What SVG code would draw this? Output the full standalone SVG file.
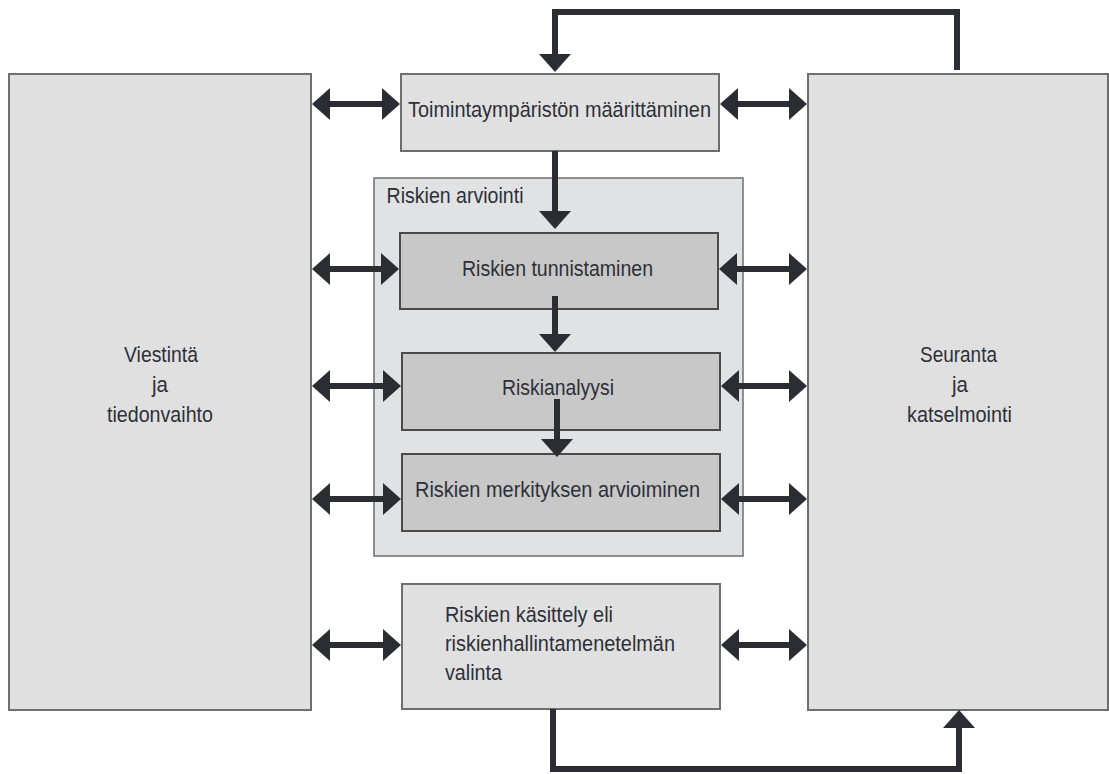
<svg xmlns="http://www.w3.org/2000/svg" width="1109" height="774" viewBox="0 0 1109 774">
<defs>
<style>
.big{fill:#e0e0e0;stroke:#6e6e6e;stroke-width:2}
.cont{fill:#e1e2e4;stroke:#6e6e6e;stroke-width:1.5}
.inner{fill:#c8c8c8;stroke:#4a4a4a;stroke-width:2}
.t{font-family:"Liberation Sans",Arial,sans-serif;font-size:22.5px;fill:#2e3038}
.c{text-anchor:middle}
.ln{fill:none;stroke:#2b2d33;stroke-width:6}
.arr{marker-end:url(#ah)}
.dbl{marker-start:url(#ah);marker-end:url(#ah)}
</style>
<marker id="ah" viewBox="0 0 18 32" refX="8" refY="16" markerWidth="18" markerHeight="32" markerUnits="userSpaceOnUse" orient="auto-start-reverse">
<path d="M0,0 L18,16 L0,32 z" fill="#2b2d33"/>
</marker>
</defs>
<rect width="1109" height="774" fill="#ffffff"/>

<g id="viestinta">
<rect class="big" x="9" y="74" width="302" height="636"/>
<text class="t c" x="161" y="362" textLength="74" lengthAdjust="spacingAndGlyphs">Viestintä</text>
<text class="t c" x="160" y="392" textLength="16" lengthAdjust="spacingAndGlyphs">ja</text>
<text class="t c" x="160" y="422" textLength="106" lengthAdjust="spacingAndGlyphs">tiedonvaihto</text>
</g>

<g id="seuranta">
<rect class="big" x="808" y="74" width="300" height="636"/>
<text class="t c" x="958.5" y="362" textLength="77" lengthAdjust="spacingAndGlyphs">Seuranta</text>
<text class="t c" x="960" y="392" textLength="16" lengthAdjust="spacingAndGlyphs">ja</text>
<text class="t c" x="959.5" y="422" textLength="105" lengthAdjust="spacingAndGlyphs">katselmointi</text>
</g>

<g id="toimintaymparisto">
<rect class="big" x="401" y="74" width="318" height="77"/>
<text class="t c" x="559.5" y="117" textLength="303" lengthAdjust="spacingAndGlyphs">Toimintaympäristön määrittäminen</text>
</g>

<g id="riskien-arviointi">
<rect class="cont" x="374" y="178" width="369" height="378"/>
<text class="t" x="386.5" y="203" textLength="137" lengthAdjust="spacingAndGlyphs">Riskien arviointi</text>
</g>

<g id="tunnistaminen">
<rect class="inner" x="400" y="233" width="318" height="76"/>
<text class="t c" x="557.5" y="276" textLength="191" lengthAdjust="spacingAndGlyphs">Riskien tunnistaminen</text>
</g>

<g id="riskianalyysi">
<rect class="inner" x="402" y="353" width="318" height="77"/>
<text class="t c" x="558" y="395" textLength="112" lengthAdjust="spacingAndGlyphs">Riskianalyysi</text>
</g>

<g id="merkitys">
<rect class="inner" x="402" y="454" width="318" height="77"/>
<text class="t c" x="557.5" y="497" textLength="285" lengthAdjust="spacingAndGlyphs">Riskien merkityksen arvioiminen</text>
</g>

<g id="kasittely">
<rect class="big" x="402" y="584" width="318" height="125"/>
<text class="t" x="445" y="622" textLength="168" lengthAdjust="spacingAndGlyphs">Riskien käsittely eli</text>
<text class="t" x="445" y="651" textLength="230" lengthAdjust="spacingAndGlyphs">riskienhallintamenetelmän</text>
<text class="t" x="445" y="680" textLength="57" lengthAdjust="spacingAndGlyphs">valinta</text>
</g>

<g id="connectors">
<path class="ln arr" d="M957,70 V12 H555 V62"/>
<path class="ln arr" d="M555,151 V219"/>
<path class="ln arr" d="M555,296 V342"/>
<path class="ln arr" d="M557,399 V447"/>
<path class="ln arr" d="M553,709 V769 H959 V720"/>
<path class="ln dbl" d="M322,104 H390"/>
<path class="ln dbl" d="M322,269 H389"/>
<path class="ln dbl" d="M322,386 H391"/>
<path class="ln dbl" d="M322,499 H391"/>
<path class="ln dbl" d="M322,645 H391"/>
<path class="ln dbl" d="M730,104 H797"/>
<path class="ln dbl" d="M729,269 H797"/>
<path class="ln dbl" d="M731,386 H797"/>
<path class="ln dbl" d="M731,499 H797"/>
<path class="ln dbl" d="M731,645 H797"/>
</g>
</svg>
